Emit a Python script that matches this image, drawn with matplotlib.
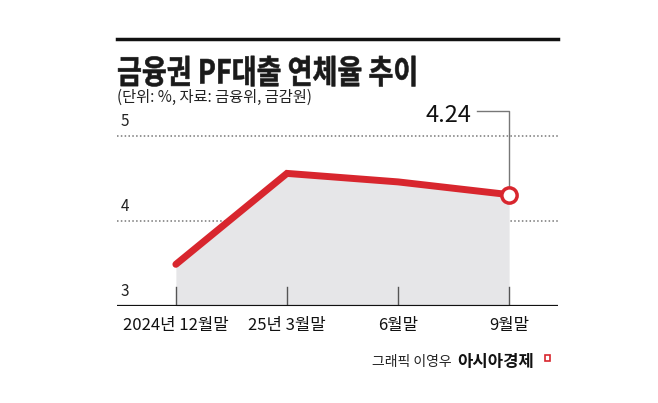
import matplotlib.pyplot as plt
import numpy as np
from matplotlib.textpath import TextPath
from matplotlib.patches import PathPatch
from matplotlib.font_manager import FontProperties
from matplotlib.transforms import Affine2D

plt.rcParams['font.family'] = ['Noto Sans CJK KR', 'DejaVu Sans']

# 데이터
labels = ['2024년 12월말', '25년 3월말', '6월말', '9월말']
rates = [3.49, 4.56, 4.46, 4.31]
last_label = '4.24'
yticks = [3, 4, 5]

red = '#d8262e'
W, H = 658, 403

fig = plt.figure(figsize=(W / 100, H / 100), dpi=100)
fig.patch.set_facecolor('white')

# 축 영역 (픽셀 기준으로 위치 맞춤)
left_px, right_px, base_px, top_px = 117, 558, 306, 119
ax = fig.add_axes([left_px / W, 1 - base_px / H,
                   (right_px - left_px) / W, (base_px - top_px) / H])
x = np.arange(len(labels))
ax.set_xlim(-0.53, 3.44)
ax.set_ylim(3, 3 + (base_px - top_px) / 85)
ax.axis('off')

# 점선 그리드와 축 눈금 숫자
for v in yticks[1:]:
    ax.axhline(v, color='#777777', lw=1.1, ls=(0, (1, 1.5)), zorder=1)
for v in yticks:
    ax.text(-0.5, v + 0.07, str(v), fontsize=11, color='#222222',
            ha='left', va='bottom')

# 영역 채우기와 선
ax.fill_between(x, rates, 3, color='#e6e6e8', lw=0, zorder=2)
for xi in x:
    ax.plot([xi, xi], [3, 3.22], color='#555555', lw=1, zorder=3)
ax.axhline(3, color='#111111', lw=1.6, zorder=4)
ax.plot(x, rates, color=red, lw=5, solid_capstyle='round',
        solid_joinstyle='miter', zorder=5)
ax.plot(x[-1], rates[-1], 'o', ms=11, mfc='white', mec=red, mew=2.5, zorder=6)

# 마지막 값 라벨과 지시선
lead_y = 5.3
ax.plot([x[-1] - 0.29, x[-1], x[-1]], [lead_y, lead_y, rates[-1] + 0.07],
        color='#777777', lw=1, zorder=4, clip_on=False)
ax.text(x[-1] - 0.34, lead_y - 0.06, last_label, fontsize=17, color='#111111',
        ha='right', va='center', clip_on=False)

# x축 라벨
for xi, lab in zip(x, labels):
    ax.text(xi, 2.77, lab, fontsize=12, color='#111111',
            ha='center', va='center', clip_on=False)

# 제목 영역
fig.add_artist(plt.Line2D([117 / W, 558 / W], [1 - 38.5 / H, 1 - 38.5 / H],
                          color='#111111', lw=2.5))

# 제목: 가로로 좁힌 굵은 글씨
tax = fig.add_axes([0, 0, 1, 1], zorder=-1)
tax.set_xlim(0, W)
tax.set_ylim(H, 0)
tax.axis('off')
tp = TextPath((0, 0), '금융권 PF대출 연체율 추이', size=33,
              prop=FontProperties(family='Noto Sans CJK KR', weight='black'))
tr = Affine2D().scale(0.82, -1).translate(117, 83.5)
tax.add_patch(PathPatch(tr.transform_path(tp), fc='#1a1a1a', ec='#1a1a1a',
                        lw=0.4))

fig.text(117 / W, 1 - 97 / H, '(단위: %, 자료: 금융위, 금감원)', fontsize=11,
         color='#222222', ha='left', va='center')

# 출처
fig.text(452 / W, 1 - 362 / H, '그래픽 이영우', fontsize=10, color='#222222',
         ha='right', va='center')
fig.text(457 / W, 1 - 362 / H, '아시아경제', fontsize=12, fontweight='bold',
         color='#111111', ha='left', va='center')
fig.add_artist(plt.Rectangle((545 / W, 1 - 361 / H), 5 / W, 6 / H,
                             fill=False, ec=red, lw=1.2))

fig.savefig('out.png', dpi=100, facecolor='white')
